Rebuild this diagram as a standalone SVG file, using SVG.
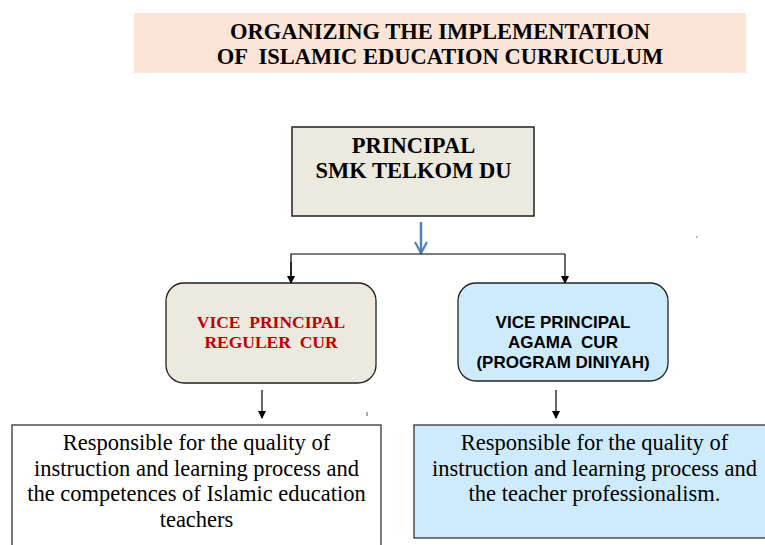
<svg xmlns="http://www.w3.org/2000/svg" width="765" height="545" viewBox="0 0 765 545">
<style>
.ser{font-family:"Liberation Serif","Times New Roman",serif;}
.sans{font-family:"Liberation Sans",Arial,sans-serif;}
.b{font-weight:bold;}
.c{text-anchor:middle;}
.ln{stroke:#000;stroke-width:1.2;fill:none;}
</style>
<defs>
<marker id="ah" markerWidth="8" markerHeight="8" refX="7" refY="4" orient="auto" markerUnits="userSpaceOnUse">
<path d="M0,0 L8,4 L0,8 z" fill="#000"/>
</marker>
<marker id="bh" markerWidth="14" markerHeight="14" refX="12" refY="7" orient="auto" markerUnits="userSpaceOnUse">
<path d="M1,1 L12,7 L1,13" fill="none" stroke="#4F81BD" stroke-width="2.2"/>
</marker>
</defs>
<g id="title">
<rect x="134" y="13" width="612" height="60" fill="#FCE4D6"/>
<text class="ser b c" x="440" y="39" font-size="22.5">ORGANIZING THE IMPLEMENTATION</text>
<text class="ser b c" x="440" y="64" font-size="22.5" xml:space="preserve">OF  ISLAMIC EDUCATION CURRICULUM</text>
</g>
<g id="principal">
<rect x="292" y="127" width="242" height="89" fill="#ECE9DF" stroke="#222" stroke-width="1.5"/>
<text class="ser b c" x="413.5" y="153" font-size="22.5">PRINCIPAL</text>
<text class="ser b c" x="413.5" y="178" font-size="22.5">SMK TELKOM DU</text>
</g>
<g id="vp-reguler">
<rect x="166" y="283" width="210" height="100" rx="18" fill="#ECE9DF" stroke="#222" stroke-width="1.3"/>
<text class="ser b c" x="271" y="328" font-size="17.5" fill="#C00000" xml:space="preserve">VICE  PRINCIPAL</text>
<text class="ser b c" x="271" y="348" font-size="17.5" fill="#C00000" xml:space="preserve">REGULER  CUR</text>
</g>
<g id="vp-agama">
<rect x="458" y="283" width="210" height="98" rx="18" fill="#CDEBFC" stroke="#222" stroke-width="1.3"/>
<text class="sans b c" x="563" y="328" font-size="17">VICE PRINCIPAL</text>
<text class="sans b c" x="563" y="348" font-size="17" xml:space="preserve">AGAMA  CUR</text>
<text class="sans b c" x="563" y="368" font-size="17">(PROGRAM DINIYAH)</text>
</g>
<g id="resp-reguler">
<rect x="12" y="425" width="369" height="130" fill="#FFFFFF" stroke="#333" stroke-width="1.3"/>
<text class="ser c" x="196.5" y="450" font-size="22.5">Responsible for the quality of</text>
<text class="ser c" x="196.5" y="476" font-size="22.5">instruction and learning process and</text>
<text class="ser c" x="196.5" y="501" font-size="22.5">the competences of Islamic education</text>
<text class="ser c" x="196.5" y="527" font-size="22.5">teachers</text>
</g>
<g id="resp-agama">
<rect x="414" y="425" width="360" height="113" fill="#CDEBFC" stroke="#333" stroke-width="1.3"/>
<text class="ser c" x="594.5" y="450" font-size="22.5">Responsible for the quality of</text>
<text class="ser c" x="594.5" y="476" font-size="22.5">instruction and learning process and</text>
<text class="ser c" x="594.5" y="501" font-size="22.5">the teacher professionalism.</text>
</g>
<g id="connectors">
<line x1="421" y1="222" x2="421" y2="253" stroke="#4F81BD" stroke-width="2.5" marker-end="url(#bh)"/>
<polyline class="ln" points="291,283 291,254 565,254"/>
<line class="ln" x1="291" y1="262" x2="291" y2="283" marker-end="url(#ah)"/>
<line class="ln" x1="565" y1="254" x2="565" y2="283" marker-end="url(#ah)"/>
<line class="ln" x1="262" y1="390" x2="262" y2="418" marker-end="url(#ah)"/>
<line class="ln" x1="556" y1="390" x2="556" y2="418" marker-end="url(#ah)"/>
<line x1="367" y1="412" x2="367" y2="416" stroke="#555" stroke-width="1"/>
<line x1="697" y1="236" x2="697" y2="238" stroke="#777" stroke-width="1"/>
</g>
</svg>
